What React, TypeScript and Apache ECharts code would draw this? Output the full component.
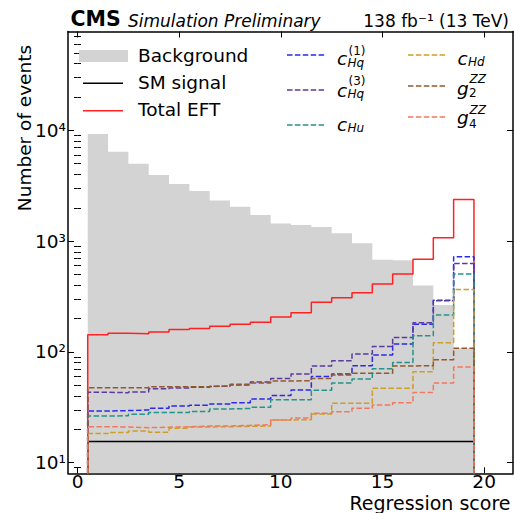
import React, { useEffect, useRef } from 'react';
import * as echarts from 'echarts';

// ---- data ----
const binCenters = [1, 2, 3, 4, 5, 6, 7, 8, 9, 10, 11, 12, 13, 14, 15, 16, 17, 18, 19];
const binWidth = 1;
const background = [9270, 6410, 5000, 3950, 3270, 2830, 2330, 2040, 1720, 1440, 1400, 1340, 1175, 955, 680, 670, 398, 265, 108];
const smSignal = [15.5, 15.5, 15.5, 15.5, 15.5, 15.5, 15.5, 15.5, 15.5, 15.5, 15.5, 15.5, 15.5, 15.5, 15.5, 15.5, 15.5, 15.5, 15.5];
const totalEFT = [143, 147, 146, 151, 159, 163, 170, 178, 185, 207, 225, 280, 308, 342, 410, 505, 685, 1074, 2380];
const cHq1 = [29.3, 29.5, 29.9, 31, 32.5, 33, 33.9, 34.8, 37.6, 40.3, 45.3, 60, 63, 75, 93.7, 118, 178, 292, 723];
const cHq3 = [43.2, 42.8, 43.5, 46.5, 47.2, 48, 49, 50.2, 53.6, 57.5, 63, 74.5, 83, 95.5, 112, 135, 183, 290, 628];
const cHu = [26.4, 26.5, 27.4, 28.3, 28.3, 29, 30.5, 30.9, 31.6, 37, 37, 45, 52.3, 57, 70.5, 80, 140, 215, 505];
const cHd = [18.3, 18.7, 19.3, 18.8, 20.5, 21, 21.1, 21.3, 21.4, 24.3, 24.4, 27.5, 34.4, 34.4, 46.9, 46.9, 66, 121, 365];
const g2ZZ = [47.5, 47.5, 47.5, 48.5, 48.5, 48.5, 49.2, 51, 52.5, 54.6, 55, 57.5, 62, 64, 64, 74.7, 75, 85, 108];
const g4ZZ = [21.1, 21, 20.7, 20.9, 21.1, 21.4, 21.4, 21.7, 22, 24.3, 25.3, 27.9, 28.8, 31, 33.2, 34.8, 43, 52.5, 73];

const xTicks = [0, 5, 10, 15, 20];
const yDecades = [1, 2, 3, 4];
const yTickLabels = ['10¹', '10²', '10³', '10⁴'];
const minorMultipliers = [2, 3, 4, 5, 6, 7, 8, 9];

// axis ranges (log10 space for y)
const X_MIN = -0.47;
const X_MAX = 21.42;
const Y_MIN = 0.904;
const Y_MAX = 4.892;

const FONT = 'DejaVu Sans';
const DASH = [5.5, 2.4];

const colors = {
  background: '#d3d3d3',
  sm: '#000000',
  eft: '#ff2222',
  cHq1: '#2a2ae8',
  cHq3: '#5b3a9e',
  cHu: '#24948a',
  cHd: '#cc9e2a',
  g2: '#93592c',
  g4: '#f2785f',
};

function stepData(vals: number[]) {
  const pts: number[][] = [];
  const first = binCenters[0] - binWidth / 2;
  const last = binCenters[binCenters.length - 1] + binWidth / 2;
  pts.push([first, Y_MIN]);
  vals.forEach((v, i) => pts.push([binCenters[i] - binWidth / 2, Math.log10(v)]));
  pts.push([last, Math.log10(vals[vals.length - 1])]);
  pts.push([last, Y_MIN]);
  return pts;
}

const yMinorTicks: number[] = [];
[0, 1, 2, 3, 4].forEach((d) =>
  minorMultipliers.forEach((m) => {
    const v = d + Math.log10(m);
    if (v > Y_MIN && v < Y_MAX) yMinorTicks.push(v);
  })
);

function lineSeries(name: string, vals: number[], color: string, dashed: boolean, z: number) {
  return {
    type: 'line',
    name,
    data: stepData(vals),
    step: 'end',
    symbol: 'none',
    showSymbol: false,
    silent: true,
    z,
    lineStyle: { color, width: 1.5, type: dashed ? DASH : 'solid' },
  };
}

function txt(t: string, x: number, y: number, size: number, o: any = {}) {
  return {
    type: 'text',
    x,
    y,
    rotation: o.rot || 0,
    silent: true,
    z: 100,
    style: {
      text: t,
      fontSize: size,
      fontFamily: FONT,
      fontStyle: o.italic ? 'italic' : 'normal',
      fontWeight: o.bold ? 'bold' : 'normal',
      fill: '#000',
      align: o.align || 'left',
      verticalAlign: 'middle',
      lineHeight: o.lh || Math.round(size * 1.0),
    },
  };
}

function handle(x1: number, x2: number, y: number, color: string, dashed: boolean) {
  return {
    type: 'line',
    silent: true,
    z: 100,
    shape: { x1, y1: y, x2, y2: y },
    style: { stroke: color, lineWidth: 1.5, lineDash: dashed ? DASH : null },
  };
}

export default function App() {
  const ref = useRef<HTMLDivElement>(null);

  useEffect(() => {
    if (!ref.current) return;
    const chart = echarts.init(ref.current, undefined, { renderer: 'svg' });

    const axisLineStyle = { color: '#000', width: 1.5 };
    const tickStyle = { color: '#000', width: 1 };

    const xAxisBase = {
      type: 'value',
      min: X_MIN,
      max: X_MAX,
      splitLine: { show: false },
      axisLine: { show: true, onZero: false, lineStyle: axisLineStyle },
      axisTick: { show: true, inside: true, length: 6, customValues: xTicks, lineStyle: tickStyle },
    };
    const yAxisBase = {
      type: 'value',
      min: Y_MIN,
      max: Y_MAX,
      splitLine: { show: false },
    };

    const mathMain = 18.5;
    const mathSmall = 12;
    const sl = 10; // compact line height for sub/superscripts

    const graphic: any[] = [
      // header
      txt('CMS', 70.5, 19.2, 20.5, { bold: true }),
      txt('Simulation Preliminary', 128, 20.5, 17, { italic: true }),
      txt('138 fb⁻¹ (13 TeV)', 509, 20.5, 17, { align: 'right' }),
      // axis titles
      txt('Number of events', 24, 128, 18.5, { align: 'center', rot: Math.PI / 2 }),
      txt('Regression score', 510.5, 502.5, 19, { align: 'right', lh: 14 }),
      // legend column 1
      {
        type: 'rect',
        silent: true,
        z: 100,
        shape: { x: 79, y: 50, width: 49, height: 12 },
        style: { fill: colors.background },
      },
      txt('Background', 138, 55.5, 18.5),
      handle(83, 123, 83.3, colors.sm, false),
      txt('SM signal', 138, 82.5, 18.5),
      handle(83, 123, 110.7, colors.eft, false),
      txt('Total EFT', 138, 109.5, 18.5),
      // legend column 2
      handle(287, 325, 55, colors.cHq1, true),
      txt('c', 337, 58.6, mathMain, { italic: true, lh: 13 }),
      txt('Hq', 347.5, 63.2, mathSmall, { italic: true, lh: sl }),
      txt('(1)', 348.5, 50.5, mathSmall, { lh: sl }),
      handle(287, 325, 90, colors.cHq3, true),
      txt('c', 337, 90.3, mathMain, { italic: true, lh: 13 }),
      txt('Hq', 347.5, 94.2, mathSmall, { italic: true, lh: sl }),
      txt('(3)', 348.5, 81.3, mathSmall, { lh: sl }),
      handle(287, 325, 125, colors.cHu, true),
      txt('c', 337, 124.3, mathMain, { italic: true, lh: 13 }),
      txt('Hu', 347.5, 128.2, mathSmall, { italic: true, lh: sl }),
      // legend column 3
      handle(408, 447, 55, colors.cHd, true),
      txt('c', 457.5, 58.6, mathMain, { italic: true, lh: 13 }),
      txt('Hd', 468, 62, mathSmall, { italic: true, lh: sl }),
      handle(408, 447, 86, colors.g2, true),
      txt('g', 457, 88, mathMain, { italic: true, lh: 13 }),
      txt('2', 469, 92.8, mathSmall, { lh: sl }),
      txt('ZZ', 469.5, 79.3, mathSmall, { italic: true, lh: sl }),
      handle(408, 447, 117, colors.g4, true),
      txt('g', 457, 117.6, mathMain, { italic: true, lh: 13 }),
      txt('4', 469, 123.8, mathSmall, { lh: sl }),
      txt('ZZ', 469.5, 110.3, mathSmall, { italic: true, lh: sl }),
    ];

    const option: any = {
      animation: false,
      backgroundColor: '#ffffff',
      textStyle: { fontFamily: FONT },
      grid: { left: 68, right: 1, top: 31.5, bottom: 39.7, containLabel: false },
      xAxis: [
        {
          ...xAxisBase,
          position: 'bottom',
          axisLabel: {
            show: true,
            customValues: xTicks,
            margin: 1,
            fontSize: 18.5,
            lineHeight: 15,
            fontFamily: FONT,
            color: '#000',
          },
        },
        {
          ...xAxisBase,
          position: 'top',
          axisLabel: { show: false },
        },
      ],
      yAxis: [
        {
          ...yAxisBase,
          position: 'left',
          axisLine: { show: true, onZero: false, lineStyle: axisLineStyle },
          axisTick: { show: true, inside: true, length: 6, customValues: yDecades, lineStyle: tickStyle },
          axisLabel: {
            show: true,
            customValues: yDecades,
            margin: 2,
            fontSize: 18.5,
            fontFamily: FONT,
            color: '#000',
            formatter: (v: number) => {
              const i = yDecades.findIndex((d) => Math.abs(d - v) < 1e-6);
              return i >= 0 ? yTickLabels[i] : '';
            },
          },
        },
        {
          ...yAxisBase,
          position: 'left',
          axisLine: { show: false },
          axisTick: { show: true, inside: true, length: 3.5, customValues: yMinorTicks, lineStyle: tickStyle },
          axisLabel: { show: false },
        },
        {
          ...yAxisBase,
          position: 'right',
          axisLine: { show: true, onZero: false, lineStyle: axisLineStyle },
          axisTick: { show: true, inside: true, length: 6, customValues: yDecades, lineStyle: tickStyle },
          axisLabel: { show: false },
        },
        {
          ...yAxisBase,
          position: 'right',
          axisLine: { show: false },
          axisTick: { show: true, inside: true, length: 3.5, customValues: yMinorTicks, lineStyle: tickStyle },
          axisLabel: { show: false },
        },
      ],
      series: [
        {
          type: 'line',
          name: 'Background',
          data: stepData(background),
          step: 'end',
          symbol: 'none',
          showSymbol: false,
          silent: true,
          z: 1,
          lineStyle: { width: 0, opacity: 0 },
          areaStyle: { color: colors.background, opacity: 1, origin: 'start' },
        },
        lineSeries('SM signal', smSignal, colors.sm, false, 2),
        lineSeries('Total EFT', totalEFT, colors.eft, false, 3),
        lineSeries('cHq1', cHq1, colors.cHq1, true, 4),
        lineSeries('cHq3', cHq3, colors.cHq3, true, 5),
        lineSeries('cHu', cHu, colors.cHu, true, 6),
        lineSeries('cHd', cHd, colors.cHd, true, 7),
        lineSeries('g2ZZ', g2ZZ, colors.g2, true, 8),
        lineSeries('g4ZZ', g4ZZ, colors.g4, true, 9),
      ],
      graphic,
    };

    chart.setOption(option);
    return () => chart.dispose();
  }, []);

  return (
    <div
      ref={ref}
      style={{ position: 'absolute', left: 0, top: 0, width: 514, height: 513, background: '#fff' }}
    />
  );
}
